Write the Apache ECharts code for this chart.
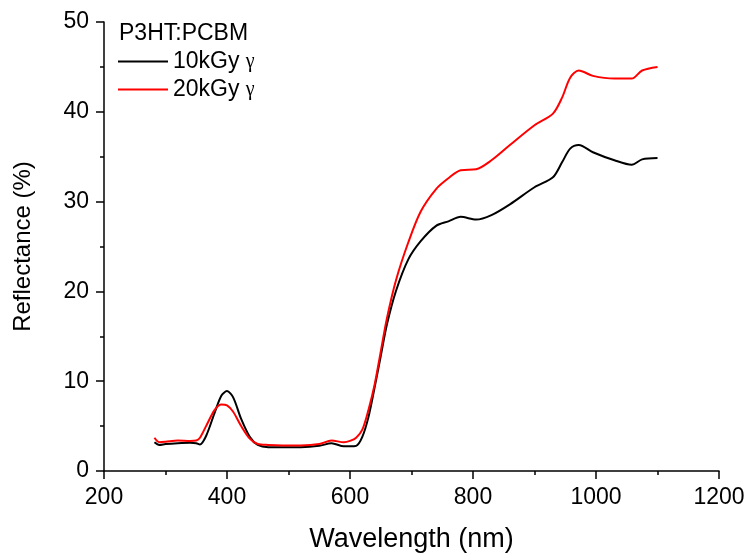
<!DOCTYPE html>
<html>
<head>
<meta charset="utf-8">
<script src="https://cdn.jsdelivr.net/npm/echarts@6/dist/echarts.min.js"></script>
<style>html,body{margin:0;padding:0;background:#fff;}#c{width:751px;height:558px;}</style>
</head>
<body>
<div id="c"></div>
<script>
const wavelength = [282, 290, 300, 320, 340, 350, 356, 366, 380, 391, 400, 410, 423, 437, 450, 467, 490, 520, 550, 570, 590, 600, 610, 620, 630, 640, 650, 660, 675, 695, 715, 740, 760, 780, 805, 830, 860, 900, 930, 945, 958, 972, 995, 1030, 1058, 1075, 1100];
const dose10 = [3.2, 2.9, 3.0, 3.1, 3.15, 3.1, 2.95, 3.9, 6.5, 8.4, 8.9, 8.2, 5.8, 3.8, 2.9, 2.65, 2.65, 2.65, 2.8, 3.1, 2.75, 2.75, 2.8, 3.8, 6.0, 9.3, 12.8, 16.3, 20.1, 23.6, 25.6, 27.3, 27.8, 28.3, 28.0, 28.5, 29.7, 31.6, 32.7, 34.4, 35.9, 36.3, 35.5, 34.6, 34.1, 34.7, 34.85];
const dose20 = [3.7, 3.2, 3.25, 3.4, 3.35, 3.4, 3.7, 5.0, 6.8, 7.4, 7.3, 6.6, 5.0, 3.6, 3.0, 2.9, 2.85, 2.85, 3.0, 3.4, 3.2, 3.35, 3.7, 4.6, 6.8, 9.6, 13.3, 17.0, 21.3, 25.5, 28.9, 31.4, 32.6, 33.5, 33.6, 34.6, 36.3, 38.5, 39.8, 41.6, 43.8, 44.6, 44.0, 43.7, 43.7, 44.6, 45.0];
const seriesNames = ['10kGy γ', '20kGy γ'];
const legendTitle = 'P3HT:PCBM';

const pair = (xs, ys) => xs.map((x, i) => [x, ys[i]]);
const font = 'Liberation Sans, Arial, sans-serif';
const chart = echarts.init(document.getElementById('c'), null, {renderer: 'canvas'});
chart.setOption({
  animation: false,
  backgroundColor: '#fff',
  title: {
    text: legendTitle, left: 114, top: 17,
    textStyle: {fontFamily: font, fontSize: 23, fontWeight: 'normal', color: '#000'}
  },
  legend: {
    left: 113, top: 45, orient: 'vertical', itemWidth: 50, itemHeight: 2, itemGap: 5,
    icon: 'rect',
    data: seriesNames,
    formatter: n => { const p = n.split(' '); return '{a|' + p[0] + '\u00a0}{g|' + p[1] + '}'; },
    textStyle: {
      color: '#000', padding: [0, 0, 0, 0],
      rich: {
        a: {fontFamily: font, fontSize: 23, color: '#000'},
        g: {fontFamily: 'Liberation Serif, Times New Roman, serif', fontSize: 20, color: '#000'}
      }
    }
  },
  grid: {left: 104, right: 32, top: 22, bottom: 86, containLabel: false},
  xAxis: {
    type: 'value', min: 200, max: 1200, interval: 200,
    name: 'Wavelength (nm)', nameLocation: 'middle', nameGap: 55,
    nameTextStyle: {fontFamily: font, fontSize: 27, color: '#000'},
    axisLine: {show: true, lineStyle: {color: '#000', width: 1.5}},
    axisTick: {show: true, inside: false, length: 8, lineStyle: {color: '#000', width: 1.5}},
    minorTick: {show: true, splitNumber: 2, length: 4, lineStyle: {color: '#000', width: 1.5}},
    axisLabel: {fontFamily: font, fontSize: 23, color: '#000', margin: 15, formatter: v => String(v)},
    splitLine: {show: false}
  },
  yAxis: {
    type: 'value', min: 0, max: 50, interval: 10,
    name: 'Reflectance (%)', nameLocation: 'middle', nameGap: 69, nameRotate: 90,
    nameTextStyle: {fontFamily: font, fontSize: 24, color: '#000'},
    axisLine: {show: true, lineStyle: {color: '#000', width: 1.5}},
    axisTick: {show: true, inside: false, length: 8, lineStyle: {color: '#000', width: 1.5}},
    minorTick: {show: true, splitNumber: 2, length: 4, lineStyle: {color: '#000', width: 1.5}},
    axisLabel: {fontFamily: font, fontSize: 23, color: '#000', margin: 15, formatter: v => String(v)},
    splitLine: {show: false}
  },
  series: [
    {name: seriesNames[0], type: 'line', data: pair(wavelength, dose10), showSymbol: false, smooth: 0.3,
     lineStyle: {color: '#000', width: 2}, itemStyle: {color: '#000'}, z: 2},
    {name: seriesNames[1], type: 'line', data: pair(wavelength, dose20), showSymbol: false, smooth: 0.3,
     lineStyle: {color: '#ff0000', width: 2}, itemStyle: {color: '#ff0000'}, z: 3}
  ]
});
</script>
</body>
</html>
